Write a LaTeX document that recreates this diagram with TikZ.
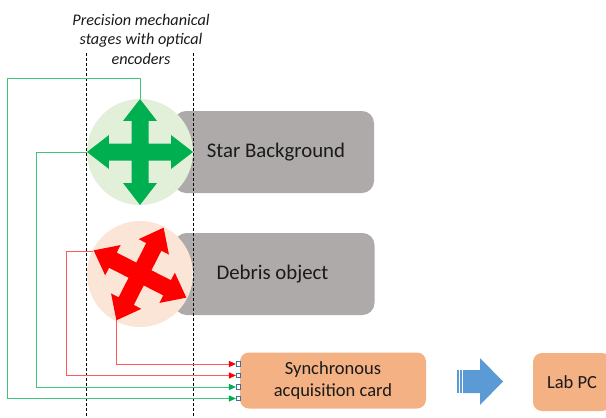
\documentclass[tikz,border=0pt]{standalone}
\usepackage{fontspec}
\setmainfont{Carlito}
\usetikzlibrary{arrows.meta}
\definecolor{boxgray}{HTML}{AEAAAA}
\definecolor{gfill}{HTML}{E2F0D9}
\definecolor{rfill}{HTML}{FBE5D6}
\definecolor{gcross}{HTML}{00B050}
\definecolor{rcross}{HTML}{FF0000}
\definecolor{orfill}{HTML}{F4B183}
\definecolor{bluearr}{HTML}{5B9BD5}
\definecolor{portblue}{HTML}{41719C}
\definecolor{txt}{HTML}{1A1A1A}
\newcommand\fourwaypath[1]{%
  (0.585*#1,-8.5) -- (0.585*#1,-17) -- (#1,0) -- (0.585*#1,17) -- (0.585*#1,8.5) --
  (8.5,8.5) -- (8.5,0.585*#1) -- (17,0.585*#1) -- (0,#1) -- (-17,0.585*#1) -- (-8.5,0.585*#1) --
  (-8.5,8.5) -- (-0.585*#1,8.5) -- (-0.585*#1,17) -- (-#1,0) -- (-0.585*#1,-17) -- (-0.585*#1,-8.5) --
  (-8.5,-8.5) -- (-8.5,-0.585*#1) -- (-17,-0.585*#1) -- (0,-#1) -- (17,-0.585*#1) -- (8.5,-0.585*#1) --
  (8.5,-8.5) -- cycle}
\begin{document}
\begin{tikzpicture}[x=1pt,y=-1pt,
  graybox/.style={fill=boxgray, rounded corners=12pt, minimum width=200pt, minimum height=82pt, inner sep=0pt, text=txt, font=\fontsize{20.8}{25}\selectfont},
  disc/.style={circle, minimum size=106pt, inner sep=0pt},
  orbox/.style={fill=orfill, rounded corners=9pt, inner sep=0pt, align=center, text=txt, font=\fontsize{18.5}{22}\selectfont},
  port/.style={draw=portblue, fill=white, line width=0.6pt, minimum size=4.5pt, inner sep=0pt},
  gline/.style={draw=gcross!75!white, line width=1pt, -{Triangle[length=7pt,width=6pt,color=gcross]}},
  rline/.style={draw=rcross!65!white, line width=1pt, -{Triangle[length=7pt,width=6pt,color=rcross]}},
  guide/.style={draw=black, line width=0.6pt, dash pattern=on 3pt off 2pt}]
\useasboundingbox (0,0) rectangle (606,418);
\clip (0,0) rectangle (606,418);

% title
\node[align=center, text=txt, font=\itshape\fontsize{16.2}{19.5}\selectfont] (title) at (141,39) {Precision mechanical\\stages with optical\\encoders};

% dashed guides
\coordinate (g1a) at (86,53); \coordinate (g1b) at (86,418);
\coordinate (g2a) at (193,53); \coordinate (g2b) at (193,418);
\draw[guide] (g1a) -- (g1b);
\draw[guide] (g2a) -- (g2b);

% gray boxes
\node[graybox] (star) at (274,152) {\hspace*{4pt}Star Background};
\node[graybox] (debris) at (274.5,274) {\hspace*{-4pt}Debris object};

% dashed guides over boxes
\draw[guide] (g2a) -- (g2b);

% discs and crosses
\node[disc, fill=gfill] (gc) at (140,152) {};
\node[disc, fill=rfill] (rc) at (140,274) {};
\begin{scope}[shift={(gc.center)}]
  \fill[gcross] \fourwaypath{53};
\end{scope}
\begin{scope}[shift={(rc.center)}, rotate=-27]
  \fill[rcross] \fourwaypath{52};
\end{scope}
\coordinate (rtipA) at ([shift={(154:52pt)}]rc.center);
\coordinate (rtipB) at ([shift={(-117:52pt)}]rc.center);

% acquisition card and ports
\node[orbox, minimum width=186pt, minimum height=56pt] (card) at (333,380.5) {Synchronous\\acquisition card};
\node[port] (p1) at (238.5,364) {};
\node[port] (p2) at (238.5,375.5) {};
\node[port] (p3) at (238.5,387) {};
\node[port] (p4) at (238.5,398.5) {};

% connectors
\draw[rline] (rtipB) |- (p1.west);
\draw[rline] (rtipA) -- ++(-27,0) |- (p2.west);
\draw[gline] (gc.west) -- ++(-50,0) |- (p3.west);
\draw[gline] (gc.north) -- ++(0,-20) -- ++(-133,0) |- (p4.west);

% blue arrow
\fill[bluearr] (457,370) rectangle (459,393);
\fill[bluearr] (460,370) rectangle (462,393);
\fill[bluearr] (463,370) -- (480,370) -- (480,358) -- (503,381.5) -- (480,405) -- (480,393) -- (463,393) -- cycle;

% Lab PC
\node[orbox, minimum width=78pt, minimum height=58pt] (pc) at (572,382) {Lab PC};
\end{tikzpicture}
\end{document}
